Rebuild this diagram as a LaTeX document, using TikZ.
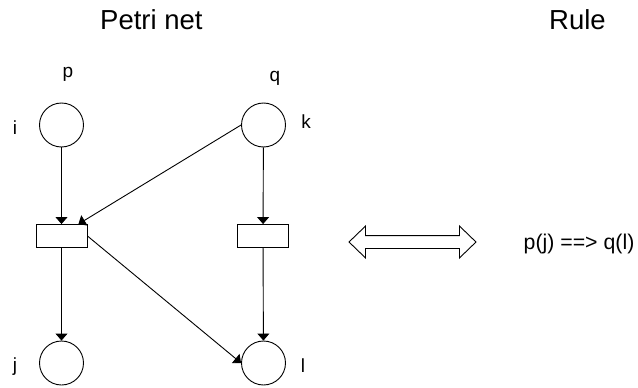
\documentclass[tikz,border=0pt]{standalone}
\usepackage{fontspec}
\setmainfont{Liberation Sans}
\usetikzlibrary{arrows.meta,shapes.arrows}
\begin{document}
\begin{tikzpicture}[x=1pt,y=-1pt,
  place/.style={circle,draw,line width=0.9pt,minimum size=44pt,inner sep=0pt},
  transition/.style={rectangle,draw,line width=0.9pt,minimum width=51pt,minimum height=23pt,inner sep=0pt},
  arc/.style={line width=0.9pt,-{Triangle[length=7pt,width=12pt]}},
  heading/.style={font=\fontsize{27.5}{30}\selectfont,inner sep=0pt,anchor=base west},
  lbl/.style={font=\fontsize{19}{21}\selectfont,inner sep=0pt,anchor=base},
  ruletext/.style={font=\fontsize{21.3}{24}\selectfont,inner sep=0pt,anchor=base west},
]
\useasboundingbox (0,0) rectangle (638,388);

% headings
\node[heading] (hnet) at (100,29) {Petri net};
\node[heading] (hrule) at (549,29) {Rule};

% places
\node[place] (p) at (61.5,125) {};
\node[place] (q) at (263.5,125) {};
\node[place] (j) at (61.5,363) {};
\node[place] (l) at (263.5,363) {};

% transitions
\node[transition] (t1) at (61.5,236) {};
\node[transition] (t2) at (263,236) {};

% place names and variables
\node[lbl] (lp) at (68,77) {p};
\node[lbl] (lq) at (275,81) {q};
\node[lbl] (li) at (15,134) {i};
\node[lbl] (lk) at (306,128) {k};
\node[lbl] (lj) at (15,371) {j};
\node[lbl] (ll) at (303,372) {l};

% arcs
\draw[arc] (p) -- (t1);
\draw[arc] (q.west) -- ([xshift=-9pt]t1.north east);
\draw[arc] (q) -- (t2);
\draw[arc] (t1) -- (j);
\draw[arc] (t1.east) -- (l.west);
\draw[arc] (t2) -- (l);

% equivalence
\node[double arrow,draw,line width=0.9pt,minimum height=127pt,minimum width=31pt,
      inner sep=6pt,double arrow head extend=9.5pt,double arrow tip angle=88] (eq) at (412.5,242) {};
\node[ruletext] (rule) at (523.5,249) {p(j) ==> q(l)};
\end{tikzpicture}
\end{document}
